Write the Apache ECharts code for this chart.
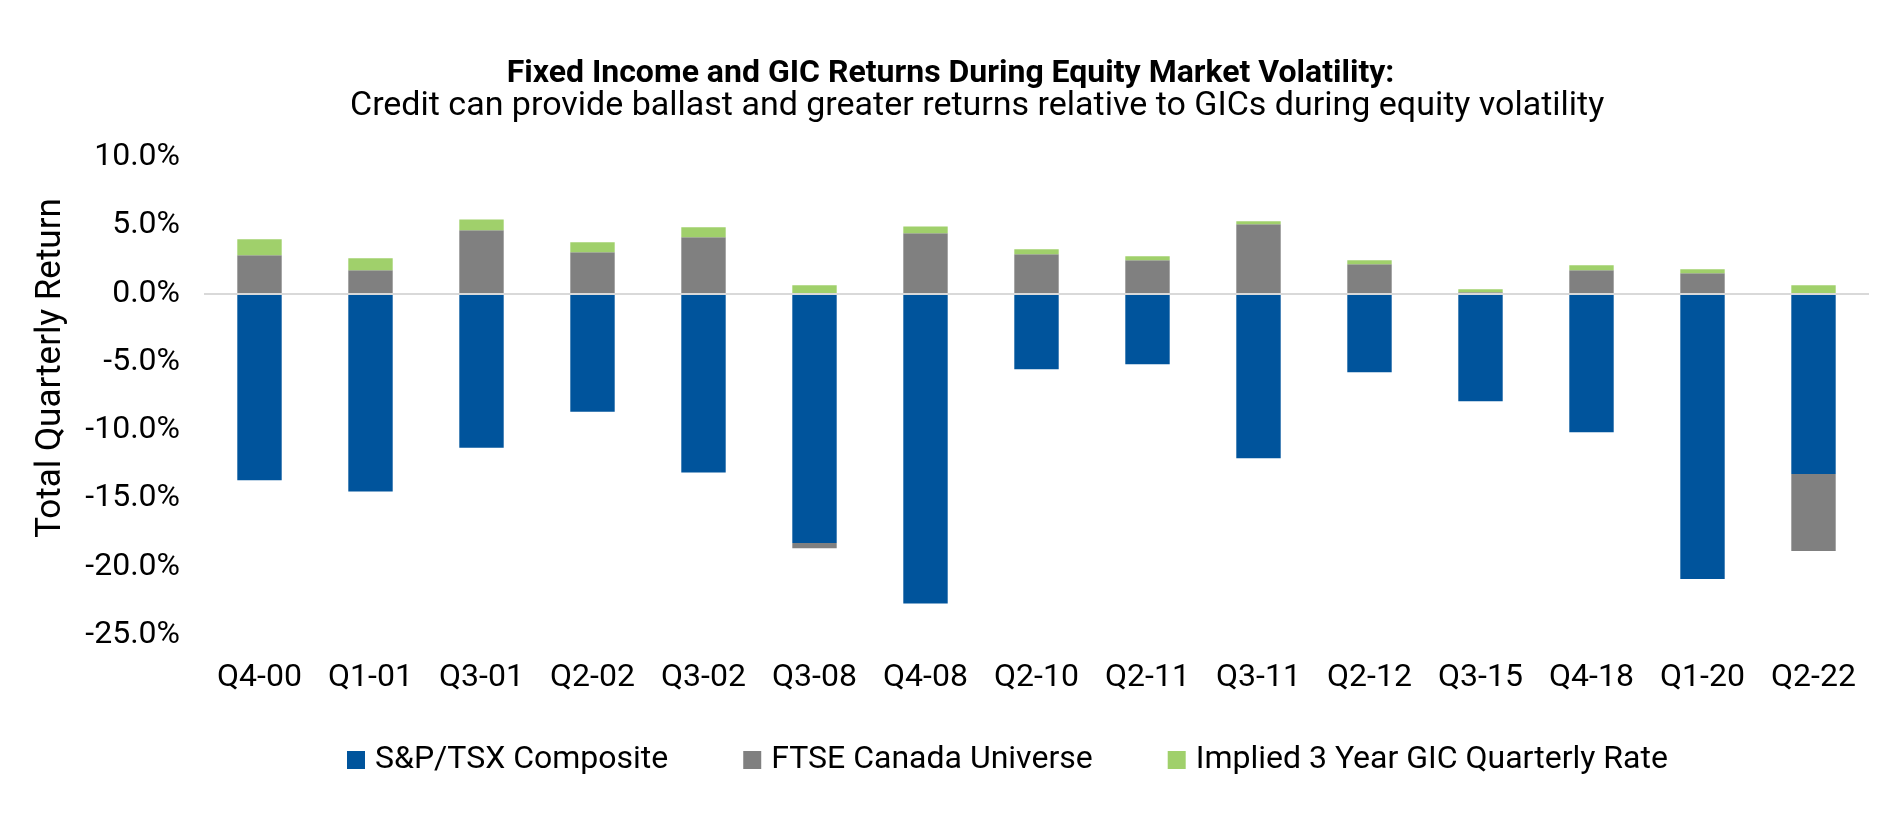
<!DOCTYPE html>
<html>
<head>
<meta charset="utf-8">
<title>Fixed Income and GIC Returns During Equity Market Volatility</title>
<script src="https://cdn.jsdelivr.net/npm/echarts@6/dist/echarts.min.js"></script>
<style>
  html, body { margin: 0; padding: 0; background: #fff; }
  #chart { width: 1901px; height: 819px; }
</style>
</head>
<body>
<div id="chart"></div>
<script>
// quarters with big equity drawdowns
var quarters = ['Q4-00', 'Q1-01', 'Q3-01', 'Q2-02', 'Q3-02', 'Q3-08', 'Q4-08', 'Q2-10',
  'Q2-11', 'Q3-11', 'Q2-12', 'Q3-15', 'Q4-18', 'Q1-20', 'Q2-22'];

// total quarterly returns, %
var tsxReturns = [-13.66, -14.5, -11.29, -8.66, -13.1, -18.27, -22.7, -5.54,
  -5.17, -12.05, -5.76, -7.88, -10.15, -20.9, -13.22];
var ftseReturns = [2.8, 1.71, 4.63, 3.02, 4.12, -0.37, 4.41, 2.88,
  2.44, 5.07, 2.15, 0.1, 1.71, 1.49, -5.63];
var gicRates = [1.17, 0.88, 0.8, 0.73, 0.73, 0.61, 0.51, 0.37,
  0.29, 0.22, 0.29, 0.22, 0.37, 0.29, 0.61];

var seriesNames = ['S&P/TSX Composite', 'FTSE Canada Universe', 'Implied 3 Year GIC Quarterly Rate'];
var seriesColors = ['#00549c', '#808080', '#a0d06b'];

var yMin = -25, yMax = 10, yStep = 5;

var fontName = 'Roboto, "Noto Sans", sans-serif';

var myChart = echarts.init(document.getElementById('chart'));

var option = {
  animation: false,
  backgroundColor: '#ffffff',
  textStyle: { fontFamily: fontName, color: '#000' },
  title: [
    {
      text: 'Fixed Income and GIC Returns During Equity Market Volatility:',
      left: 'center',
      top: 58,
      padding: 0,
      textStyle: { fontFamily: fontName, fontSize: 32, fontWeight: 'bold', color: '#000' }
    },
    {
      // subtitle sits a little right of the main title in the original
      text: 'Credit can provide ballast and greater returns relative to GICs during equity volatility',
      left: 350,
      top: 89,
      padding: 0,
      textStyle: { fontFamily: fontName, fontSize: 34, fontWeight: 'normal', color: '#000' }
    }
  ],
  legend: {
    data: seriesNames,
    left: 342,
    top: 739,
    itemWidth: 18,
    itemHeight: 18,
    itemGap: 75,
    icon: 'rect',
    textStyle: { fontFamily: fontName, fontSize: 32, color: '#000', padding: [0, 0, 0, 5] }
  },
  grid: { left: 204, right: 32, top: 157, bottom: 184 },
  xAxis: {
    type: 'category',
    data: quarters,
    axisLine: { show: false, onZero: false },
    axisTick: { show: false },
    axisLabel: { fontFamily: fontName, fontSize: 32, color: '#000', margin: 27 }
  },
  yAxis: {
    type: 'value',
    min: yMin,
    max: yMax,
    interval: yStep,
    name: 'Total Quarterly Return',
    nameLocation: 'middle',
    nameRotate: 90,
    nameGap: 135,
    nameTextStyle: { fontFamily: fontName, fontSize: 35, color: '#000', padding: [0, 0, 0, 56] },
    axisLine: { show: false },
    axisTick: { show: false },
    splitLine: { show: false },
    axisLabel: {
      fontFamily: fontName, fontSize: 32, color: '#000', margin: 24,
      formatter: function (v) { return v.toFixed(1) + '%'; }
    }
  },
  series: [
    {
      name: seriesNames[0], type: 'bar', stack: 'total', barWidth: '40%',
      itemStyle: { color: seriesColors[0] },
      data: tsxReturns,
      markLine: {
        silent: true,
        symbol: 'none',
        label: { show: false },
        lineStyle: { color: '#d9d9d9', width: 2, type: 'solid' },
        data: [{ yAxis: 0 }]
      }
    },
    {
      name: seriesNames[1], type: 'bar', stack: 'total', barWidth: '40%',
      itemStyle: { color: seriesColors[1] },
      data: ftseReturns
    },
    {
      name: seriesNames[2], type: 'bar', stack: 'total', barWidth: '40%',
      itemStyle: { color: seriesColors[2] },
      data: gicRates
    }
  ]
};

myChart.setOption(option);
</script>
</body>
</html>
